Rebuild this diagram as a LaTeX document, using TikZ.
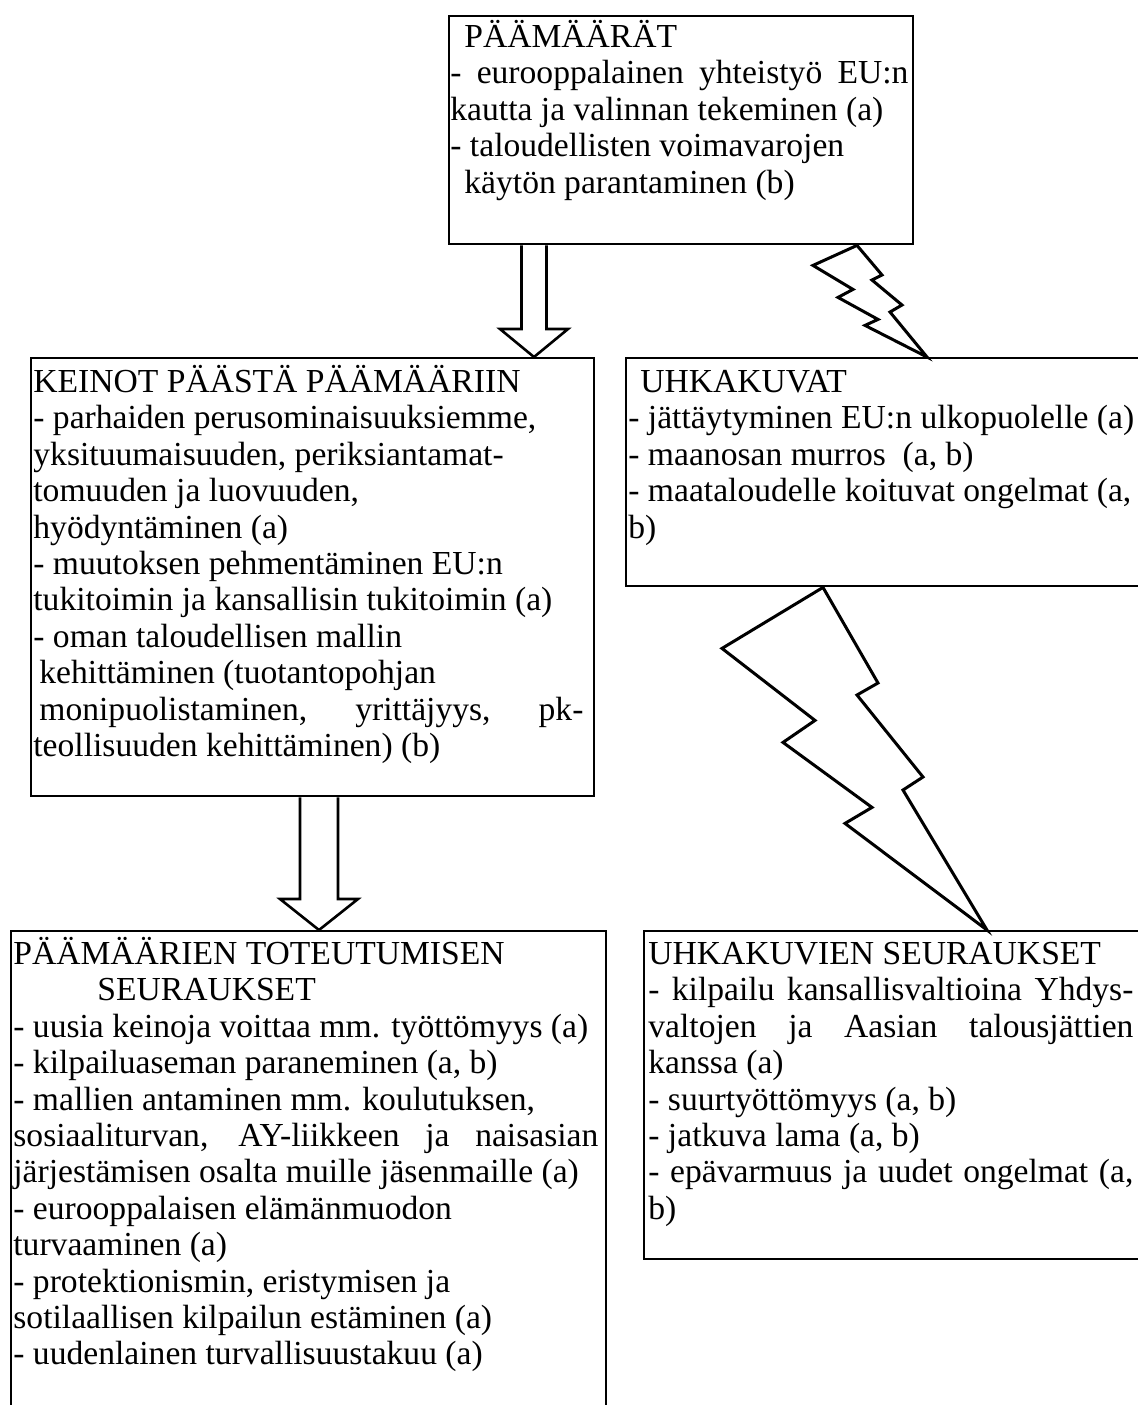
\documentclass[tikz,border=0pt]{standalone}
\usepackage{fontspec}
\setmainfont{Liberation Serif}
\usetikzlibrary{calc}
\newcommand{\jl}[2]{\makebox[#1][s]{#2}}
\newcommand{\fs}{\vrule height 15pt width 0pt}

\begin{document}
\begin{tikzpicture}[x=0.5pt, y=-0.5pt, every node/.style={font=\fontsize{16.8}{18.2}\selectfont}]
  \tikzstyle{box}=[draw, line width=1.2pt, inner sep=0pt, anchor=north west]
  \tikzstyle{txt}=[inner sep=0pt, anchor=north west, align=left]
  \tikzstyle{hollow}=[line width=1.3pt, line join=miter]
  \tikzstyle{bolt}=[line width=1.5pt, line join=miter]
  \useasboundingbox (0,0) rectangle (1138,1405);
  \clip (0,0) rectangle (1138,1405);
  % boxes
  \node[box, minimum width=232pt, minimum height=114pt] (goal) at (448,15) {};
  \node[box, minimum width=281.5pt, minimum height=219pt] (means) at (30,357) {};
  \node[box, minimum width=267.5pt, minimum height=114pt] (threat) at (625,357) {};
  \node[box, minimum width=297.5pt, minimum height=260pt] (res) at (10,930) {};
  \node[box, minimum width=258.5pt, minimum height=164pt] (tres) at (643,930) {};
  % texts
  \node[txt] (goalt) at (450,17) {\fs\hspace*{7pt}PÄÄMÄÄRÄT\\
    \jl{229pt}{- eurooppalainen yhteistyö EU:n}\\
    kautta ja valinnan tekeminen (a)\\
    - taloudellisten voimavarojen\\
    \hspace*{7pt}käytön parantaminen (b)};
  \node[txt] (meanst) at (33,362) {\fs KEINOT PÄÄSTÄ PÄÄMÄÄRIIN\\
    - parhaiden perusominaisuuksiemme,\\
    yksituumaisuuden, periksiantamat-\\
    tomuuden ja luovuuden,\\
    hyödyntäminen (a)\\
    - muutoksen pehmentäminen EU:n\\
    tukitoimin ja kansallisin tukitoimin (a)\\
    - oman taloudellisen mallin\\
    \hspace*{3pt}kehittäminen (tuotantopohjan\\
    \jl{275pt}{\hspace*{3pt}monipuolistaminen, yrittäjyys, pk-}\\
    teollisuuden kehittäminen) (b)};
  \node[txt] (threatt) at (628,362) {\fs\hspace*{6pt}UHKAKUVAT\\
    - jättäytyminen EU:n ulkopuolelle (a)\\
    - maanosan murros\ \ (a, b)\\
    - maataloudelle koituvat ongelmat (a,\\
    b)};
  \node[txt] (rest) at (13,934) {\fs PÄÄMÄÄRIEN TOTEUTUMISEN\\
    \hspace*{42pt}SEURAUKSET\\
    - uusia keinoja voittaa mm. työttömyys (a)\\
    - kilpailuaseman paraneminen (a, b)\\
    - mallien antaminen mm. koulutuksen,\\
    \jl{292.5pt}{sosiaaliturvan, AY-liikkeen ja naisasian}\\
    järjestämisen osalta muille jäsenmaille (a)\\
    - eurooppalaisen elämänmuodon\\
    turvaaminen (a)\\
    - protektionismin, eristymisen ja\\
    sotilaallisen kilpailun estäminen (a)\\
    - uudenlainen turvallisuustakuu (a)};
  \node[txt] (trest) at (648,934) {\fs UHKAKUVIEN SEURAUKSET\\
    \jl{242.5pt}{- kilpailu kansallisvaltioina Yhdys-}\\
    \jl{242.5pt}{valtojen ja Aasian talousjättien}\\
    kanssa (a)\\
    - suurtyöttömyys (a, b)\\
    - jatkuva lama (a, b)\\
    \jl{242.5pt}{- epävarmuus ja uudet ongelmat (a,}\\
    b)};
  % hollow arrows
  \coordinate (a1) at ($(goal.south west)+(86,0)$);
  \coordinate (a1e) at (a1 |- means.north);
  \draw[hollow] ($(a1)+(-12.5,0)$) -- ($(a1e)+(-12.5,-28)$) -- ($(a1e)+(-34,-28)$) -- (a1e)
    -- ($(a1e)+(34,-28)$) -- ($(a1e)+(12.5,-28)$) -- ($(a1)+(12.5,0)$);
  \coordinate (a2) at ($(means.south west)+(289,0)$);
  \coordinate (a2e) at (a2 |- res.north);
  \draw[hollow] ($(a2)+(-19,0)$) -- ($(a2e)+(-19,-31)$) -- ($(a2e)+(-39,-31)$) -- (a2e)
    -- ($(a2e)+(39,-31)$) -- ($(a2e)+(19,-31)$) -- ($(a2)+(19,0)$);
  % lightning
  \coordinate (b1) at ($(goal.south west)+(409,0)$);
  \coordinate (b1e) at ($(threat.north west)+(302,0)$);
  \draw[bolt] (b1) -- +(-44,20) -- +(-4,44) -- +(-19,52) -- +(21,74) -- +(8,80) -- (b1e)
    -- +(-37,-45) -- +(-25,-52) -- +(-55,-77) -- +(-45,-82) -- cycle;
  \coordinate (b2) at ($(threat.south west)+(198,0)$);
  \coordinate (b2e) at ($(tres.north west)+(344,0)$);
  \draw[bolt] (b2) -- +(-101,61) -- +(-8,133) -- +(-40,155) -- +(49,220) -- +(22,236) -- (b2e)
    -- +(-84,-140) -- +(-64,-153) -- +(-130,-235) -- +(-109,-247) -- cycle;
\end{tikzpicture}
\end{document}
